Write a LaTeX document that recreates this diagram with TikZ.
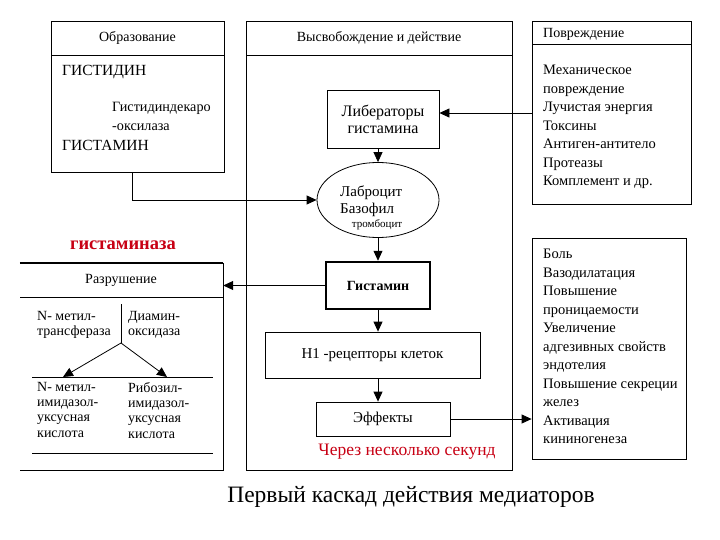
\documentclass[tikz,border=0pt]{standalone}
\usepackage{fontspec}
\setmainfont{Liberation Serif}
\usetikzlibrary{arrows.meta,shapes.geometric,calc}
\definecolor{redtxt}{RGB}{200,0,20}
\begin{document}
\begin{tikzpicture}[x=1pt,y=-1pt,
  box/.style={draw,line width=0.8pt,inner sep=0pt,rectangle},
  arr/.style={line width=0.8pt,-{Triangle[length=10pt,width=9pt]}},
  ln/.style={line width=0.8pt},
  hdr/.style={font=\fontsize{14}{17}\selectfont,inner sep=0pt},
  txt/.style={font=\fontsize{14.5}{18.5}\selectfont,align=left,inner sep=0pt},
  sm/.style={font=\fontsize{14}{15.3}\selectfont,align=left,inner sep=0pt},
  big/.style={font=\fontsize{15.5}{18}\selectfont,inner sep=0pt}
]
\useasboundingbox[fill=white] (0,0) rectangle (720,540);

% Образование
\node[box,minimum width=173pt,minimum height=151pt] (obr) at (137.5,96.5) {};
\draw[ln] (51,55) -- (224,55);
\node[hdr] (obrh) at (137.5,38) {Образование};
\node[big,anchor=west] (hist1) at (62,72) {ГИСТИДИН};
\node[txt,font=\fontsize{14.2}{19}\selectfont,anchor=north west] (dek) at (112,102) {Гистидиндекаро\\-оксилаза};
\node[big,anchor=west] (hist2) at (62,145) {ГИСТАМИН};

% Высвобождение и действие
\node[box,minimum width=266pt,minimum height=449pt] (mid) at (379,245.5) {};
\draw[ln] (246,55) -- (512,55);
\node[hdr] (midh) at (379,38) {Высвобождение и действие};
\node[box,minimum width=112pt,minimum height=58pt,align=center,font=\fontsize{16}{17}\selectfont] (lib) at (383,119) {Либераторы\\гистамина};
\node[draw,ellipse,line width=0.8pt,minimum width=122pt,minimum height=75pt,inner sep=0pt] (ell) at (378,200) {};
\node[txt,font=\fontsize{15}{17}\selectfont,anchor=north west] (labr) at (340,186) {Лаброцит\\Базофил};
\node[font=\fontsize{11}{13}\selectfont,inner sep=0pt] (tromb) at (377,225) {тромбоцит};
\node[box,line width=2.5pt,minimum width=104pt,minimum height=47pt,font=\bfseries\fontsize{14}{17}\selectfont] (gist) at (378,285.5) {Гистамин};
\node[box,minimum width=215pt,minimum height=46pt,font=\fontsize{15}{17}\selectfont] (h1) at (372.5,355) {Н1 -рецепторы клеток};
\node[box,minimum width=134pt,minimum height=34pt,font=\fontsize{15}{17}\selectfont] (effb) at (383,419) {Эффекты};
\node[text=redtxt,font=\fontsize{17.5}{20}\selectfont,inner sep=0pt] (sec) at (407,452) {Через несколько секунд};

% Повреждение
\node[box,minimum width=159pt,minimum height=183pt] (pov) at (611.5,112.5) {};
\draw[ln] (532,44) -- (691,44);
\node[hdr,anchor=west] (povh) at (543,34) {Повреждение};
\node[txt,anchor=north west] (povl) at (543,65) {Механическое\\повреждение\\Лучистая энергия\\Токсины\\Антиген-антитело\\Протеазы\\Комплемент и др.};

% Эффекты list
\node[box,minimum width=154pt,minimum height=221pt] (eff) at (609,348.5) {};
\node[txt,anchor=north west] (effl) at (543,249) {Боль\\Вазодилатация\\Повышение\\проницаемости\\Увеличение\\адгезивных свойств\\эндотелия\\Повышение секреции\\желез\\Активация\\кининогенеза};

% Разрушение
\node[minimum width=203pt,minimum height=207pt,inner sep=0pt] (razr) at (121.5,366.5) {};
\draw[line width=1.6pt] (razr.north west) -- (razr.north east);
\draw[ln] (razr.north east) -- (razr.south east) -- (razr.south west);
\draw[ln] (20,297) -- (223,297);
\node[hdr] (razrh) at (121,280) {Разрушение};
\coordinate (fork) at (121,343);
\coordinate (forktop) at (121,304);
\coordinate (tl) at (63,377);
\coordinate (tr) at (167,377);
\draw[ln] (forktop) -- (fork);
\draw[arr] (fork) -- (tl);
\draw[arr] (fork) -- (tr);
\draw[ln] (32,377) -- (213,377);
\draw[ln] (32,453) -- (213,453);
\node[sm,anchor=north west] (nm1) at (37,311) {N- метил-\\трансфераза};
\node[sm,anchor=north west] (dia) at (128,311) {Диамин-\\оксидаза};
\node[sm,anchor=north west] (nm2) at (37,382) {N- метил-\\имидазол-\\уксусная\\кислота};
\node[sm,anchor=north west] (rib) at (128,382) {Рибозил-\\имидазол-\\уксусная\\кислота};
\node[text=redtxt,font=\bfseries\fontsize{18.5}{20}\selectfont,inner sep=0pt] (gaz) at (123,245) {гистаминаза};

% connectors
\draw[arr] (lib.south -| ell.north) -- (ell.north);
\draw[arr] (ell.south) -- (gist.north);
\draw[arr] (gist.south) -- (gist.south |- h1.north);
\draw[arr] (h1.south -| gist.south) -- (effb.north -| gist.south);
\draw[arr] (pov.west |- 0,113) -- (lib.east |- 0,113);
\draw[arr] (obr.south -| 132,0) |- (ell.west);
\draw[arr] (gist.west) -- (razr.east |- gist.west);
\draw[arr] (effb.east) -- (eff.west |- effb.east);

% title
\node[font=\fontsize{23.5}{27}\selectfont,inner sep=0pt] (title) at (411,497) {Первый каскад действия медиаторов};
\end{tikzpicture}
\end{document}
